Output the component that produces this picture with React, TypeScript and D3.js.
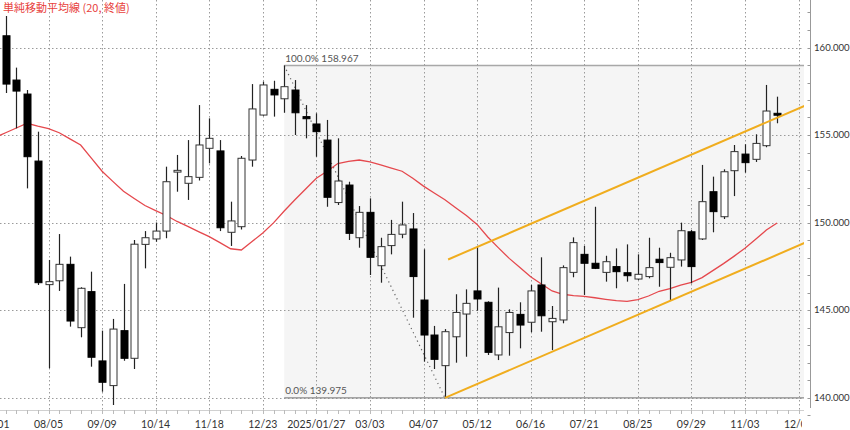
import React from "react";
import * as d3 from "d3";

// Weekly USD/JPY candles, first week = 2024-07-01
const firstWeek = "2024-07-01";
const opens = [161.0, 160.67, 158.14, 157.34, 153.51, 146.45, 146.67, 147.61, 143.99, 146.05, 142.09, 140.68, 143.82, 142.24, 148.75, 149.06, 149.51, 152.88, 152.24, 152.58, 154.24, 154.09, 149.44, 149.76, 153.57, 156.14, 157.61, 157.07, 157.57, 156.05, 155.63, 154.71, 151.14, 152.14, 149.13, 150.58, 147.53, 148.68, 149.33, 149.63, 145.57, 143.57, 141.82, 143.47, 144.77, 146.09, 145.44, 142.43, 143.71, 144.75, 144.3, 146.43, 144.33, 144.43, 147.15, 148.18, 147.67, 147.15, 147.48, 147.13, 146.77, 146.91, 147.9, 147.44, 147.86, 149.47, 149.06, 151.76, 150.33, 152.96, 153.91, 153.61, 154.39, 156.24];
const highs = [161.95, 161.8, 158.85, 157.57, 155.19, 147.86, 149.34, 148.05, 146.3, 147.19, 143.82, 144.49, 146.49, 149.0, 149.51, 150.0, 153.19, 153.86, 154.71, 156.71, 155.95, 154.71, 151.19, 153.8, 157.91, 158.05, 158.1, 158.967, 158.14, 156.71, 156.24, 155.86, 154.81, 152.33, 150.94, 151.38, 149.13, 150.15, 151.19, 150.54, 148.47, 144.09, 143.91, 145.9, 146.18, 148.6, 145.5, 146.28, 145.04, 145.44, 146.43, 148.01, 145.23, 147.55, 149.15, 148.67, 150.9, 148.1, 148.52, 148.75, 148.18, 149.13, 148.56, 148.27, 149.99, 149.57, 153.29, 152.62, 153.04, 154.43, 154.47, 155.04, 157.86, 157.19];
const lows = [160.2, 157.4, 155.38, 151.95, 146.43, 141.67, 146.09, 144.05, 143.44, 141.76, 140.33, 139.57, 142.1, 141.63, 147.38, 148.9, 149.1, 151.76, 151.29, 152.4, 153.38, 149.51, 148.66, 149.6, 153.19, 156.1, 156.05, 156.27, 155.0, 154.81, 153.76, 150.9, 151.0, 149.0, 148.56, 147.0, 146.56, 148.18, 149.1, 144.56, 142.05, 141.63, 139.975, 141.99, 142.33, 144.96, 142.43, 142.14, 142.39, 142.81, 143.73, 143.76, 142.71, 144.24, 146.87, 145.86, 147.34, 146.62, 146.24, 146.62, 146.71, 146.81, 146.33, 145.51, 147.48, 146.52, 149.0, 149.44, 150.2, 151.51, 152.85, 153.46, 154.3, 155.67];
const closes = [160.75, 157.91, 157.51, 153.76, 146.56, 146.62, 147.61, 144.37, 146.24, 142.3, 140.87, 143.91, 142.24, 148.76, 149.13, 149.51, 152.33, 152.98, 152.62, 154.43, 154.81, 149.7, 150.09, 153.67, 156.49, 157.86, 157.29, 157.76, 156.27, 155.93, 155.19, 151.44, 152.37, 149.38, 150.58, 148.01, 148.62, 149.32, 149.86, 146.91, 143.57, 142.18, 143.76, 144.86, 145.38, 145.63, 142.58, 144.04, 144.86, 144.14, 146.09, 144.67, 144.52, 147.42, 148.85, 147.67, 147.38, 147.76, 147.19, 146.96, 147.04, 147.42, 147.71, 147.99, 149.53, 147.48, 151.19, 150.62, 152.9, 154.05, 153.42, 154.52, 156.37, 156.13];
// 20-week simple moving average (close)
const sma20 = [154.86, 155.13, 155.4, 155.67, 155.51, 155.37, 155.13, 154.78, 154.43, 153.68, 152.93, 152.35, 151.78, 151.37, 150.97, 150.68, 150.4, 150.06, 149.78, 149.48, 149.19, 148.85, 148.5, 148.43, 148.91, 149.4, 149.98, 150.66, 151.3, 151.91, 152.53, 152.93, 153.37, 153.49, 153.57, 153.46, 153.29, 153.11, 152.93, 152.53, 152.08, 151.69, 151.3, 150.84, 150.4, 149.89, 149.17, 148.55, 147.95, 147.43, 146.9, 146.49, 146.09, 145.9, 145.82, 145.78, 145.7, 145.61, 145.53, 145.49, 145.59, 145.8, 146.07, 146.22, 146.42, 146.58, 146.85, 147.25, 147.65, 148.08, 148.53, 149.04, 149.57, 149.97];

const xTickDates = ["2024-07-01", "2024-08-05", "2024-09-09", "2024-10-14", "2024-11-18", "2024-12-23", "2025-01-27", "2025-03-03", "2025-04-07", "2025-05-12", "2025-06-16", "2025-07-21", "2025-08-25", "2025-09-29", "2025-11-03", "2025-12-08"];
const xTickLabels = ["07/01", "08/05", "09/09", "10/14", "11/18", "12/23", "2025/01/27", "03/03", "04/07", "05/12", "06/16", "07/21", "08/25", "09/29", "11/03", "12/08"];
const yTicks = [140, 145, 150, 155, 160];

// Fibonacci retracement anchors
const fibHighWeek = 27; // 2025-01-06
const fibLowWeek = 42; // 2025-04-21
const fibHigh = 158.967;
const fibLow = 139.975;
// Parallel channel anchors: low of 04/21 and high of 05/12
const channelLow = { week: 42, price: 139.975 };
const channelHigh = { week: 45, price: 148.6 };
const channelSlope = 0.2638; // price per week
const channelUpperStart = 42.3;

const parse = d3.timeParse("%Y-%m-%d");
const W = 850, H = 430;
const plotRight = 804, axisY = 410, axisX = 810.5;

export default function App() {
  const start = parse(firstWeek)!;
  const dates = opens.map((_, i) => d3.timeDay.offset(start, 7 * i));
  const x = d3.scaleTime().domain([parse("2024-08-05")!, parse("2025-12-08")!]).range([48.5, 798.5]);
  const y = d3.scaleLinear().domain([140, 160]).range([397.5, 47.5]);
  const xi = (w: number) => x(d3.timeHour.offset(start, w * 7 * 24));

  const weekTicks = d3.range(-1, 77).map((k) => d3.timeDay.offset(start, 7 * k));
  const minorY = d3.range(138, 163);

  const smaLine = d3.line<number>().x((_, i) => x(dates[i])).y((v) => y(v)).curve(d3.curveLinear);

  const chanX2 = x.invert(plotRight + 5);
  const lastWeek = (chanX2.getTime() - start.getTime()) / (7 * 864e5);
  const lowerAt = (w: number) => channelLow.price + channelSlope * (w - channelLow.week);
  const offset = channelHigh.price - lowerAt(channelHigh.week);

  const gridStyle = { stroke: "#9a9a9a", strokeWidth: 1, strokeDasharray: "1.5,2.5" };
  const fibX = xi(fibHighWeek);

  return (
    <svg width={W} height={H} style={{ position: "absolute", left: 0, top: 0, background: "#fff" }} fontFamily="Lato, 'Noto Sans', sans-serif">
      <defs>
        <clipPath id="plot"><rect x={0} y={0} width={plotRight} height={axisY} /></clipPath>
        <clipPath id="xlab"><rect x={0} y={axisY} width={802} height={H - axisY} /></clipPath>
      </defs>
      <g clipPath="url(#plot)">
        <rect x={fibX} y={y(fibHigh)} width={plotRight - fibX} height={y(fibLow) - y(fibHigh)} fill="#f5f5f5" />
        {yTicks.map((t) => (
          <line key={t} x1={0} x2={plotRight} y1={Math.round(y(t)) + 0.5} y2={Math.round(y(t)) + 0.5} {...gridStyle} />
        ))}
        <line x1={fibX} x2={plotRight} y1={y(fibHigh)} y2={y(fibHigh)} stroke="#a8a8a8" strokeWidth={1.5} />
        <line x1={fibX} x2={plotRight} y1={y(fibLow)} y2={y(fibLow)} stroke="#8a8a8a" strokeWidth={1.2} />
        <line x1={fibX} y1={y(fibHigh)} x2={xi(fibLowWeek)} y2={y(fibLow)} stroke="#666" strokeWidth={1.2} strokeDasharray="1.2,3.5" />
        <text x={fibX + 1} y={y(fibHigh) - 4} fontSize={10} fill="#555">100.0% 158.967</text>
        <text x={fibX + 1} y={y(fibLow) - 4} fontSize={10} fill="#555">0.0% 139.975</text>
      </g>
      {xTickDates.map((d) => {
        const xv = Math.round(x(parse(d)!)) + 0.5;
        return <line key={d} x1={xv} x2={xv} y1={0} y2={416} {...gridStyle} />;
      })}
      <g clipPath="url(#plot)">
        <path d={smaLine(sma20) || ""} fill="none" stroke="#e5484d" strokeWidth={1.3} />
        {dates.map((d, i) => {
          const cx = Math.round(x(d)) + 0.5;
          const up = closes[i] >= opens[i];
          const top = y(Math.max(opens[i], closes[i]));
          const bot = y(Math.min(opens[i], closes[i]));
          return (
            <g key={i}>
              <line x1={cx} x2={cx} y1={y(highs[i])} y2={y(lows[i])} stroke="#222" strokeWidth={1.2} />
              <rect x={cx - 3.5} y={top} width={7} height={Math.max(bot - top, 1)} fill={up ? "#fff" : "#000"} stroke={up ? "#333" : "#000"} strokeWidth={1} />
            </g>
          );
        })}
        <line x1={xi(channelLow.week)} y1={y(channelLow.price)} x2={xi(lastWeek)} y2={y(lowerAt(lastWeek))} stroke="#f0ad1e" strokeWidth={2} />
        <line x1={xi(channelUpperStart)} y1={y(lowerAt(channelUpperStart) + offset)} x2={xi(lastWeek)} y2={y(lowerAt(lastWeek) + offset)} stroke="#f0ad1e" strokeWidth={2} />
      </g>
      <text x={3} y={12} fontSize={11} fill="#e8413c" fontFamily="'Noto Sans CJK JP', sans-serif">単純移動平均線 (20, 終値)</text>
      {/* x axis */}
      <line x1={0} x2={plotRight} y1={axisY + 0.5} y2={axisY + 0.5} stroke="#d0d0d0" />
      {weekTicks.map((d, k) => {
        const xv = Math.round(x(d)) + 0.5;
        return xv < plotRight ? <line key={k} x1={xv} x2={xv} y1={axisY} y2={axisY + 4} stroke="#bbb" /> : null;
      })}
      <g clipPath="url(#xlab)">
        {xTickDates.map((d, k) => (
          <text key={d} x={x(parse(d)!)} y={428} fontSize={10.5} fill="#333" textAnchor="middle">{xTickLabels[k]}</text>
        ))}
      </g>
      {/* y axis */}
      <line x1={axisX} x2={axisX} y1={0} y2={408} stroke="#999" />
      {minorY.map((t) => (
        <line key={t} x1={axisX - 3} x2={axisX} y1={Math.round(y(t)) + 0.5} y2={Math.round(y(t)) + 0.5} stroke="#999" />
      ))}
      {yTicks.map((t) => (
        <text key={t} x={814} y={y(t)} dy="0.35em" fontSize={9.6} fill="#333">{t.toFixed(3)}</text>
      ))}
    </svg>
  );
}
